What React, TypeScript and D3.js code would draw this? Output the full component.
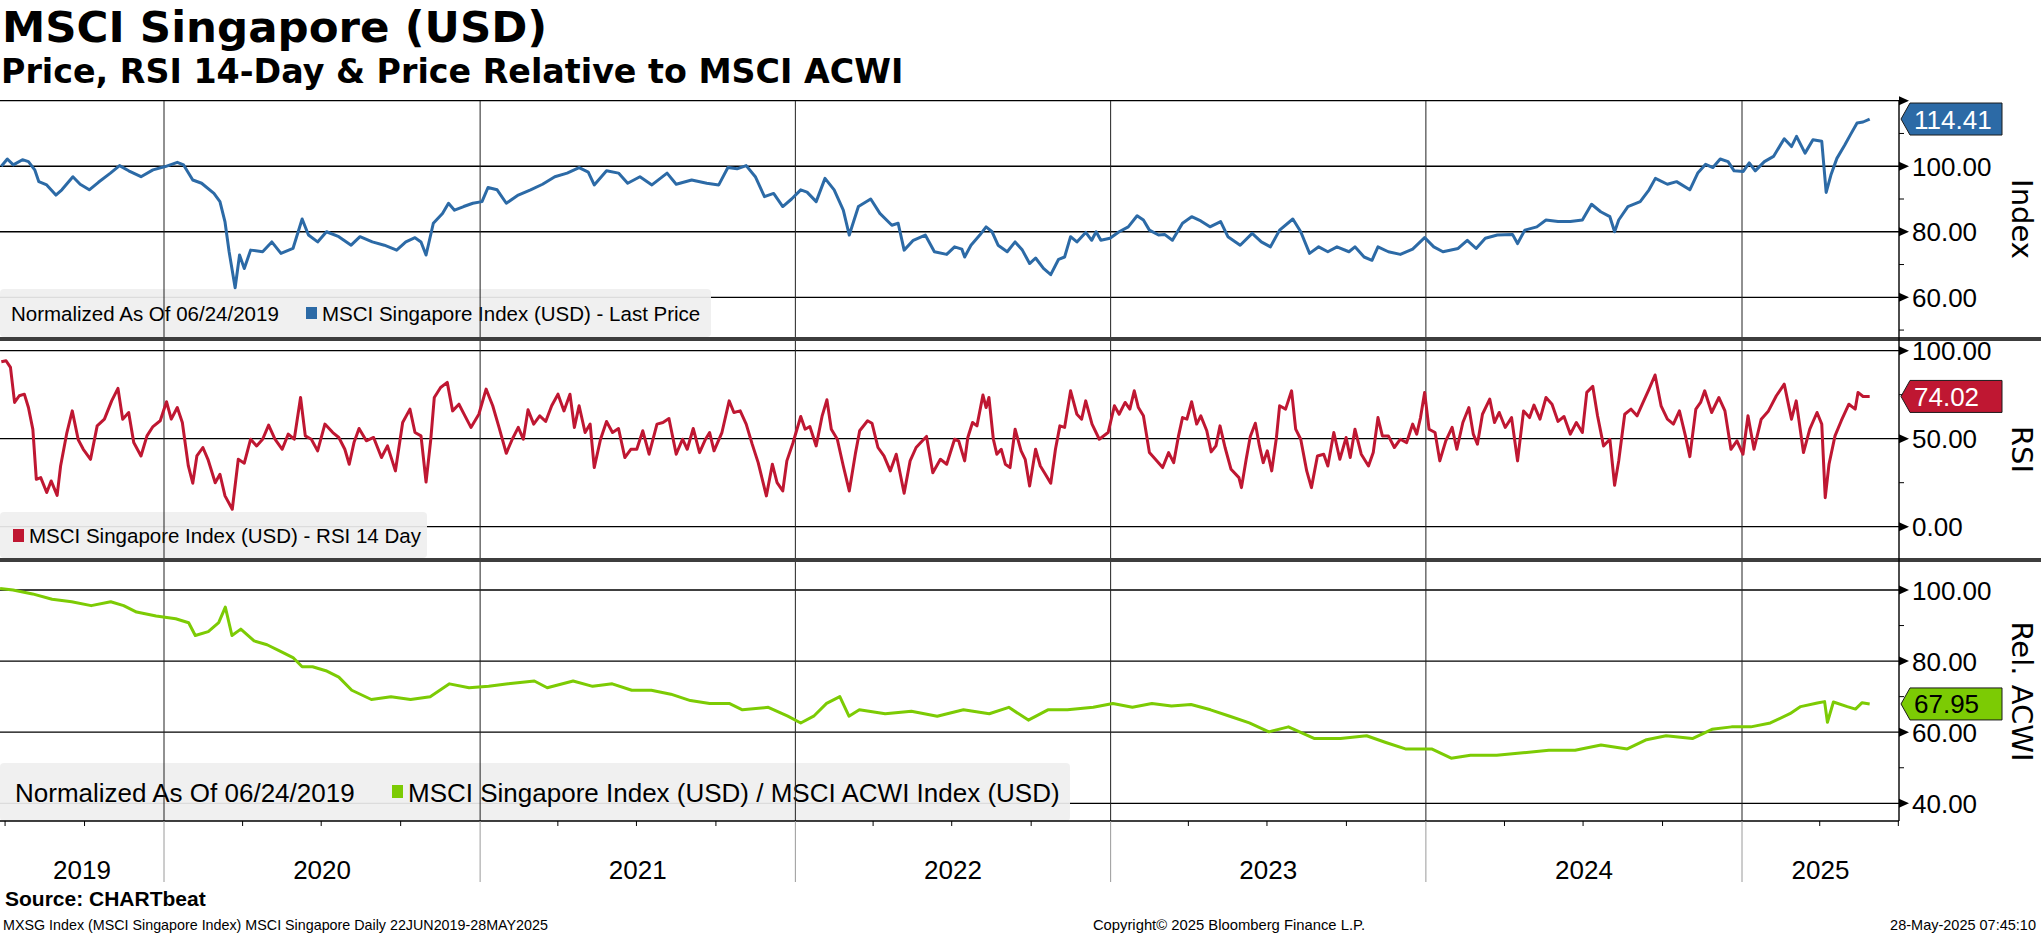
import * as d3 from 'd3';
import * as React from 'react';

// [decimal year, value]
const priceSeries: [number, number][] = [
  [2019.484, 100], [2019.503, 102.2], [2019.522, 100.4], [2019.551, 102], [2019.570, 101.4], [2019.590, 98.9], [2019.603, 95.3],
  [2019.628, 94.3], [2019.657, 91.2], [2019.676, 92.8], [2019.711, 96.8], [2019.734, 94.5], [2019.763, 92.8], [2019.792, 95.1],
  [2019.830, 97.9], [2019.859, 100.2], [2019.888, 98.6], [2019.927, 96.8], [2019.965, 98.9], [2020.004, 99.9], [2020.042, 101.2],
  [2020.062, 100.4], [2020.091, 95.8], [2020.119, 94.8], [2020.158, 91.7], [2020.177, 89.2], [2020.193, 83], [2020.206, 73.9],
  [2020.225, 62.9], [2020.239, 72.9], [2020.254, 68.8], [2020.274, 74.4], [2020.312, 73.9], [2020.341, 76.9], [2020.370, 73.4],
  [2020.408, 74.9], [2020.437, 83.9], [2020.457, 79], [2020.486, 76.9], [2020.514, 80], [2020.553, 78.5], [2020.592, 75.9],
  [2020.620, 78.5], [2020.659, 76.9], [2020.697, 75.9], [2020.736, 74.4], [2020.765, 76.9], [2020.794, 78.2], [2020.813, 76.9],
  [2020.829, 72.9], [2020.852, 82.6], [2020.881, 85.6], [2020.900, 88.7], [2020.919, 86.6], [2020.948, 87.7], [2020.977, 88.7],
  [2021.006, 89.2], [2021.025, 93.5], [2021.054, 92.8], [2021.083, 88.7], [2021.121, 91.2], [2021.160, 92.8], [2021.198, 94.5],
  [2021.237, 96.8], [2021.276, 97.9], [2021.314, 99.6], [2021.343, 98.2], [2021.362, 94.3], [2021.401, 98.6], [2021.439, 97.9],
  [2021.468, 94.8], [2021.507, 96.8], [2021.545, 94.3], [2021.593, 97.9], [2021.622, 94.5], [2021.671, 95.8], [2021.719, 94.8],
  [2021.757, 94.3], [2021.786, 99.6], [2021.815, 99.2], [2021.844, 100.2], [2021.873, 96.8], [2021.902, 90.7], [2021.931, 91.7],
  [2021.960, 87.7], [2021.988, 90], [2022.017, 92.8], [2022.037, 92.1], [2022.066, 89.2], [2022.094, 96.3], [2022.123, 92.8],
  [2022.152, 86.6], [2022.171, 79], [2022.200, 87.7], [2022.239, 90], [2022.268, 85.6], [2022.306, 82], [2022.326, 82.6],
  [2022.345, 74.4], [2022.374, 77.4], [2022.412, 79], [2022.441, 73.9], [2022.480, 73.1], [2022.505, 75.4], [2022.528, 74.7],
  [2022.537, 72.3], [2022.557, 75.9], [2022.585, 79], [2022.605, 81.5], [2022.624, 80], [2022.643, 75.9], [2022.672, 73.9],
  [2022.697, 76.9], [2022.720, 74.4], [2022.743, 70.3], [2022.762, 72], [2022.787, 68.8], [2022.810, 66.9], [2022.835, 71.6],
  [2022.854, 72.3], [2022.873, 78.5], [2022.893, 76.9], [2022.921, 79.8], [2022.940, 77.4], [2022.954, 80], [2022.969, 77.4],
  [2022.998, 78], [2023.027, 80], [2023.056, 81.5], [2023.084, 84.9], [2023.104, 83.6], [2023.123, 80.5], [2023.152, 79],
  [2023.171, 79.2], [2023.196, 77.4], [2023.228, 82.6], [2023.257, 84.6], [2023.286, 83.3], [2023.315, 81.5], [2023.349, 83.1],
  [2023.372, 78.5], [2023.411, 75.9], [2023.449, 79.5], [2023.478, 76.9], [2023.507, 75.4], [2023.536, 80.5], [2023.578, 83.9],
  [2023.603, 80], [2023.631, 73.4], [2023.660, 75.4], [2023.689, 73.9], [2023.718, 75.4], [2023.756, 73.9], [2023.775, 75.4],
  [2023.804, 72.3], [2023.829, 71.3], [2023.848, 75.4], [2023.881, 73.9], [2023.919, 73.1], [2023.958, 74.7], [2023.996, 78.2],
  [2024.025, 75.4], [2024.054, 73.9], [2024.102, 74.9], [2024.131, 77.4], [2024.159, 74.9], [2024.188, 78], [2024.226, 79],
  [2024.274, 79.2], [2024.290, 76.4], [2024.313, 80.5], [2024.351, 81.5], [2024.380, 83.6], [2024.418, 83.1], [2024.457, 83.1],
  [2024.495, 83.6], [2024.524, 88.4], [2024.553, 86.1], [2024.582, 84.6], [2024.597, 80], [2024.610, 83.6], [2024.639, 87.7],
  [2024.678, 89.2], [2024.706, 92.8], [2024.726, 96.3], [2024.764, 94.5], [2024.793, 95.3], [2024.835, 92.8], [2024.860, 97.9],
  [2024.885, 100.6], [2024.908, 99.6], [2024.931, 102.2], [2024.956, 101.4], [2024.975, 98.6], [2025.004, 98.4], [2025.023, 101],
  [2025.042, 98.6], [2025.071, 101.4], [2025.100, 103], [2025.134, 108.4], [2025.157, 106], [2025.173, 109.1], [2025.200, 104],
  [2025.225, 108.1], [2025.253, 107.6], [2025.267, 92], [2025.282, 97.3], [2025.301, 102.4], [2025.326, 106.5], [2025.345, 109.8],
  [2025.365, 113.2], [2025.384, 113.5], [2025.405, 114.41],
];

const rsiSeries: [number, number][] = [
  [2019.484, 93.7], [2019.499, 94.3], [2019.513, 90.5], [2019.526, 70.6], [2019.541, 74.4], [2019.557, 75.3], [2019.570, 67.7],
  [2019.584, 55.3], [2019.595, 26.9], [2019.609, 27.9], [2019.628, 19.4], [2019.642, 26], [2019.661, 17.8], [2019.672, 34.5],
  [2019.692, 53.5], [2019.709, 65.8], [2019.728, 49.4], [2019.744, 44], [2019.767, 38.3], [2019.788, 57.3], [2019.811, 61.1],
  [2019.834, 71.5], [2019.854, 78.6], [2019.869, 61.1], [2019.888, 64.9], [2019.904, 47.8], [2019.927, 40.2], [2019.946, 51.6],
  [2019.965, 56.9], [2019.988, 60.2], [2020.008, 71], [2020.023, 61.1], [2020.042, 67.7], [2020.058, 59.2], [2020.077, 34.5],
  [2020.091, 24.7], [2020.104, 40.2], [2020.123, 45], [2020.139, 38.3], [2020.162, 25], [2020.177, 29.8], [2020.193, 17.5],
  [2020.216, 9.9], [2020.235, 38.3], [2020.254, 36.1], [2020.274, 49.7], [2020.293, 45.9], [2020.312, 49.7], [2020.331, 57.7],
  [2020.351, 49.7], [2020.374, 44], [2020.393, 52.6], [2020.412, 49.7], [2020.432, 73.4], [2020.447, 51.6], [2020.466, 49.7],
  [2020.486, 43.1], [2020.509, 58.3], [2020.534, 53.5], [2020.553, 50.7], [2020.572, 44], [2020.586, 35.5], [2020.601, 47.8],
  [2020.617, 55.8], [2020.640, 48.8], [2020.663, 50.7], [2020.688, 39.3], [2020.707, 45.9], [2020.732, 31.7], [2020.755, 59.2],
  [2020.778, 66.8], [2020.794, 53.5], [2020.813, 51.6], [2020.829, 25.4], [2020.844, 49.7], [2020.855, 73.4], [2020.875, 79.1],
  [2020.896, 82], [2020.913, 65.8], [2020.933, 69.6], [2020.952, 63], [2020.971, 56.4], [2020.996, 63.9], [2021.019, 78.2],
  [2021.040, 68.7], [2021.060, 56.4], [2021.083, 41.7], [2021.102, 49.7], [2021.121, 56.4], [2021.137, 49.7], [2021.152, 66.4],
  [2021.170, 58.3], [2021.189, 63], [2021.208, 59.8], [2021.227, 68.7], [2021.247, 75.3], [2021.266, 65.8], [2021.285, 75.3],
  [2021.299, 56.4], [2021.314, 68.7], [2021.333, 53.5], [2021.349, 58.3], [2021.362, 33.6], [2021.382, 49.7], [2021.401, 59.8],
  [2021.420, 53.5], [2021.439, 55.8], [2021.459, 39.3], [2021.478, 44], [2021.497, 44], [2021.516, 54.5], [2021.536, 41.2],
  [2021.561, 58.3], [2021.580, 59.2], [2021.599, 61.5], [2021.622, 41.2], [2021.642, 49.7], [2021.657, 44], [2021.676, 55.8],
  [2021.696, 42.1], [2021.715, 49.7], [2021.728, 53.5], [2021.742, 43.1], [2021.767, 53.5], [2021.790, 71.5], [2021.805, 64.9],
  [2021.825, 65.8], [2021.844, 58.3], [2021.863, 46.9], [2021.882, 36.4], [2021.908, 17.5], [2021.927, 35.5], [2021.942, 25],
  [2021.960, 20.3], [2021.973, 37.4], [2021.992, 47.4], [2022.017, 62.6], [2022.031, 55.4], [2022.046, 56.9], [2022.066, 45.9],
  [2022.085, 63], [2022.100, 72.1], [2022.114, 55.4], [2022.133, 49.7], [2022.152, 34.5], [2022.171, 20.3], [2022.191, 42.1],
  [2022.204, 54.5], [2022.229, 60.2], [2022.243, 58.8], [2022.262, 45], [2022.281, 40.2], [2022.301, 31.7], [2022.320, 41.2],
  [2022.345, 19], [2022.364, 37.4], [2022.383, 45], [2022.403, 48.8], [2022.416, 51.3], [2022.436, 30.7], [2022.460, 38.3],
  [2022.480, 35.5], [2022.505, 49.7], [2022.518, 48.8], [2022.537, 37.4], [2022.547, 50.7], [2022.562, 59.2], [2022.576, 57.3],
  [2022.595, 74.8], [2022.605, 67.7], [2022.614, 73.4], [2022.628, 49.7], [2022.639, 41.2], [2022.653, 44], [2022.666, 35.5],
  [2022.681, 33.6], [2022.697, 55.4], [2022.716, 43.1], [2022.729, 38.3], [2022.743, 23.1], [2022.762, 44], [2022.777, 34.5],
  [2022.793, 29.8], [2022.810, 24.7], [2022.825, 44], [2022.839, 57.3], [2022.854, 56.4], [2022.873, 77.2], [2022.893, 63.9],
  [2022.908, 61.1], [2022.921, 71.5], [2022.941, 58.3], [2022.964, 49.7], [2022.992, 53.5], [2023.012, 68.7], [2023.027, 63.9],
  [2023.046, 70.6], [2023.061, 66.8], [2023.075, 77.2], [2023.088, 67.7], [2023.104, 63], [2023.123, 42.1], [2023.142, 38.3],
  [2023.165, 33.6], [2023.184, 42.1], [2023.200, 36.4], [2023.215, 51.3], [2023.228, 62], [2023.242, 61.1], [2023.257, 71],
  [2023.273, 58.3], [2023.286, 63], [2023.305, 54.5], [2023.319, 42.5], [2023.334, 45.9], [2023.347, 57.3], [2023.363, 45],
  [2023.382, 32.6], [2023.407, 27.9], [2023.415, 22.2], [2023.430, 38.3], [2023.443, 51.3], [2023.459, 58.8], [2023.472, 45.9],
  [2023.484, 36.4], [2023.497, 43.1], [2023.511, 31.7], [2023.526, 50.7], [2023.536, 68.7], [2023.555, 66.8], [2023.574, 77.2],
  [2023.587, 55.4], [2023.603, 49.7], [2023.622, 31.7], [2023.637, 22.2], [2023.656, 40.2], [2023.676, 41.2], [2023.689, 34.5],
  [2023.708, 53.5], [2023.727, 38.3], [2023.747, 50.7], [2023.760, 39.3], [2023.775, 55.4], [2023.795, 41.2], [2023.818, 34.5],
  [2023.833, 42.1], [2023.848, 62], [2023.862, 51.6], [2023.881, 51.6], [2023.900, 45], [2023.919, 49.7], [2023.939, 47.8],
  [2023.958, 58.3], [2023.971, 52.6], [2023.983, 62], [2023.996, 76.3], [2024.010, 55.4], [2024.029, 53.5], [2024.044, 37.4],
  [2024.063, 48.8], [2024.083, 56.4], [2024.098, 44], [2024.117, 59.2], [2024.136, 67.7], [2024.150, 52.6], [2024.163, 46.9],
  [2024.179, 63.9], [2024.202, 72.5], [2024.217, 59.2], [2024.232, 64.9], [2024.251, 56.4], [2024.271, 62], [2024.290, 37.4],
  [2024.309, 65.8], [2024.328, 62], [2024.342, 69.1], [2024.361, 61.1], [2024.380, 73.4], [2024.399, 69.6], [2024.418, 59.8],
  [2024.437, 62.6], [2024.457, 52.6], [2024.476, 59.2], [2024.495, 53.5], [2024.509, 76.3], [2024.528, 79.7], [2024.543, 63],
  [2024.562, 45.9], [2024.582, 49.7], [2024.597, 23.5], [2024.610, 37.4], [2024.629, 63.9], [2024.649, 66.8], [2024.668, 63],
  [2024.687, 70.6], [2024.706, 78.2], [2024.725, 86.2], [2024.744, 68.7], [2024.764, 61.1], [2024.783, 58.3], [2024.802, 65.8],
  [2024.821, 51.6], [2024.835, 39.8], [2024.854, 66.8], [2024.869, 70.6], [2024.882, 77.2], [2024.904, 64.9], [2024.927, 73.4],
  [2024.946, 65.8], [2024.965, 44], [2024.984, 48.8], [2025.003, 41.2], [2025.019, 63], [2025.038, 44], [2025.061, 61.1],
  [2025.084, 65.8], [2025.109, 74.4], [2025.134, 81], [2025.157, 61.1], [2025.172, 71.5], [2025.195, 42.1], [2025.215, 55.4],
  [2025.238, 64.9], [2025.253, 58.3], [2025.264, 16.5], [2025.276, 35.5], [2025.295, 51.6], [2025.315, 60.2], [2025.339, 69.6],
  [2025.359, 66.8], [2025.368, 76.3], [2025.384, 74], [2025.405, 74.02],
];

const relSeries: [number, number][] = [
  [2019.480, 100.4], [2019.521, 100], [2019.583, 98.9], [2019.645, 97.4], [2019.707, 96.7], [2019.769, 95.6], [2019.831, 96.7],
  [2019.872, 95.6], [2019.913, 93.8], [2019.975, 92.7], [2020.037, 91.9], [2020.078, 90.8], [2020.099, 87.2], [2020.140, 88.3],
  [2020.173, 90.8], [2020.194, 95.2], [2020.215, 87.2], [2020.243, 89], [2020.285, 85.7], [2020.326, 84.6], [2020.367, 82.8],
  [2020.408, 81], [2020.437, 78.4], [2020.470, 78.4], [2020.512, 77.3], [2020.553, 75.5], [2020.594, 71.8], [2020.656, 69.2],
  [2020.718, 70], [2020.780, 69.2], [2020.842, 70], [2020.903, 73.6], [2020.965, 72.5], [2021.027, 72.9], [2021.089, 73.6],
  [2021.172, 74.4], [2021.213, 72.5], [2021.295, 74.4], [2021.357, 72.9], [2021.419, 73.6], [2021.481, 71.8], [2021.543, 71.8],
  [2021.605, 70.7], [2021.667, 68.9], [2021.728, 68.1], [2021.790, 68.1], [2021.832, 66.3], [2021.914, 67], [2021.976, 64.5],
  [2022.017, 62.6], [2022.058, 64.5], [2022.099, 68.1], [2022.141, 70], [2022.170, 64.5], [2022.203, 66.3], [2022.285, 65.2],
  [2022.368, 65.9], [2022.450, 64.5], [2022.533, 66.3], [2022.615, 65.2], [2022.677, 67], [2022.739, 63.4], [2022.801, 66.3],
  [2022.863, 66.3], [2022.945, 67], [2023.007, 68.1], [2023.069, 67], [2023.131, 68.1], [2023.193, 67.4], [2023.255, 67.8],
  [2023.317, 66.3], [2023.378, 64.5], [2023.440, 62.6], [2023.502, 60.1], [2023.564, 61.5], [2023.647, 58.2], [2023.729, 58.2],
  [2023.812, 59], [2023.873, 57.1], [2023.935, 55.3], [2024.018, 55.3], [2024.080, 52.7], [2024.141, 53.5], [2024.224, 53.5],
  [2024.307, 54.2], [2024.389, 54.9], [2024.472, 54.9], [2024.554, 56.4], [2024.637, 55.3], [2024.698, 57.9], [2024.760, 59],
  [2024.843, 58.2], [2024.905, 60.8], [2024.967, 61.5], [2025.028, 61.5], [2025.090, 62.6], [2025.152, 65.2], [2025.186, 67.2],
  [2025.239, 68.2], [2025.262, 68.6], [2025.271, 62.8], [2025.290, 68.5], [2025.334, 67.2], [2025.360, 66.5], [2025.381, 68.3],
  [2025.405, 67.95],
];

const yearLabels = ['2019', '2020', '2021', '2022', '2023', '2024', '2025'];
const priceTicks = [60, 80, 100, 120];
const priceLabels = [60, 80, 100];
const priceMinor = [50, 70, 90, 110];
const rsiTicks = [0, 50, 100];
const rsiMinor = [25, 75];
const relTicks = [40, 60, 80, 100];
const relMinor = [50, 70, 90];

const SANS = 'Liberation Sans, Arial, sans-serif';
const BOLD = 'DejaVu Sans, Verdana, sans-serif';
const W = 2041;
const H = 936;
const AXIS_X = 1899;

const BLUE = '#2c6aa6';
const RED = '#bf1732';
const GREEN = '#7ccb04';

function toDate(t: number) {
  const y = Math.floor(t);
  const a = Date.UTC(y, 0, 1);
  const b = Date.UTC(y + 1, 0, 1);
  return new Date(a + (t - y) * (b - a));
}

export default function App() {
  const x = d3.scaleUtc()
    .domain([new Date(Date.UTC(2020, 0, 1)), new Date(Date.UTC(2025, 0, 1))])
    .range([164, 1742]);

  const panels = [
    {
      id: 'price', top: 101, bottom: 337,
      y: d3.scaleLinear().domain([60, 120]).range([297.3, 100.7]),
      ticks: priceTicks, labels: priceLabels, minor: priceMinor,
      data: priceSeries, color: BLUE, title: 'Index', flagText: '#fff',
    },
    {
      id: 'rsi', top: 341, bottom: 558,
      y: d3.scaleLinear().domain([0, 100]).range([526.7, 350.7]),
      ticks: rsiTicks, labels: rsiTicks, minor: rsiMinor,
      data: rsiSeries, color: RED, title: 'RSI', flagText: '#fff',
    },
    {
      id: 'rel', top: 562, bottom: 821,
      y: d3.scaleLinear().domain([40, 100]).range([803.3, 590]),
      ticks: relTicks, labels: relTicks, minor: relMinor,
      data: relSeries, color: GREEN, title: 'Rel. ACWI', flagText: '#000',
    },
  ];

  const yearStarts = d3.utcYear.range(new Date(Date.UTC(2020, 0, 1)), new Date(Date.UTC(2026, 0, 1)));
  const quarterTicks = d3.utcMonth.every(3)!
    .range(new Date(Date.UTC(2019, 6, 1)), new Date(Date.UTC(2025, 7, 1)))
    .filter(d => d.getUTCMonth() !== 0);

  const yearCenters = yearLabels.map(label => {
    const yr = +label;
    const a = Math.max(0, x(new Date(Date.UTC(yr, 0, 1))));
    const b = Math.min(AXIS_X, x(new Date(Date.UTC(yr + 1, 0, 1))));
    return { label, cx: (a + b) / 2 };
  });

  return (
    <div style={{ position: 'absolute', left: 0, top: 0, width: W, height: H, background: '#fff' }}>
      <svg width={W} height={H} viewBox={`0 0 ${W} ${H}`} style={{ display: 'block' }}>
        <rect width={W} height={H} fill="#fff" />
        <defs>
          {panels.map(p => (
            <clipPath id={`clip-${p.id}`} key={p.id}>
              <rect x={0} y={p.top} width={AXIS_X} height={p.bottom - p.top} />
            </clipPath>
          ))}
        </defs>

        <text x={2} y={42} fontFamily={BOLD} fontWeight="bold" fontSize={43.5}>MSCI Singapore (USD)</text>
        <text x={1} y={83} fontFamily={BOLD} fontWeight="bold" fontSize={33.3}>Price, RSI 14-Day &amp; Price Relative to MSCI ACWI</text>

        {panels.map(p => {
          const line = d3.line<[number, number]>()
            .x(d => x(toDate(d[0])))
            .y(d => p.y(d[1]));
          return (
            <g key={p.id}>
              {p.ticks.map(t => (
                <line key={t} x1={0} x2={AXIS_X} y1={p.y(t)} y2={p.y(t)} stroke="#000" strokeWidth={1.3} />
              ))}
              {p.id === 'price' && (
                <g>
                  <rect x={0} y={289} width={711} height={48} rx={4} fill="#efefef" opacity={0.92} />
                  <text x={11} y={321} fontFamily={SANS} fontSize={20.5}>Normalized As Of 06/24/2019</text>
                  <rect x={306} y={307} width={11} height={12} fill={BLUE} />
                  <text x={322} y={321} fontFamily={SANS} fontSize={20.5}>MSCI Singapore Index (USD) - Last Price</text>
                </g>
              )}
              {p.id === 'rsi' && (
                <g>
                  <rect x={0} y={512} width={427} height={46} rx={4} fill="#efefef" opacity={0.92} />
                  <rect x={13} y={529} width={11} height={13} fill={RED} />
                  <text x={29} y={543} fontFamily={SANS} fontSize={20.5}>MSCI Singapore Index (USD) - RSI 14 Day</text>
                </g>
              )}
              {p.id === 'rel' && (
                <g>
                  <rect x={0} y={763} width={1070} height={58} rx={4} fill="#efefef" opacity={0.92} />
                  <text x={15} y={802} fontFamily={SANS} fontSize={26}>Normalized As Of 06/24/2019</text>
                  <rect x={392} y={785} width={11} height={13} fill={GREEN} />
                  <text x={408} y={802} fontFamily={SANS} fontSize={26}>MSCI Singapore Index (USD) / MSCI ACWI Index (USD)</text>
                </g>
              )}
              {yearStarts.map(d => (
                <line key={+d} x1={x(d)} x2={x(d)} y1={p.top} y2={p.bottom} stroke="#222" strokeWidth={1} />
              ))}
              <path d={line(p.data) ?? ''} fill="none" stroke={p.color} strokeWidth={3}
                strokeLinejoin="round" clipPath={`url(#clip-${p.id})`} />
            </g>
          );
        })}

        {/* panel separators */}
        <rect x={0} y={337} width={W} height={4} fill="#3d3d3d" />
        <rect x={0} y={558} width={W} height={4} fill="#3d3d3d" />

        {/* bottom time axis */}
        <line x1={0} x2={AXIS_X} y1={821} y2={821} stroke="#000" strokeWidth={1.3} />
        {quarterTicks.map(d => (
          <line key={+d} x1={x(d)} x2={x(d)} y1={821} y2={826} stroke="#000" strokeWidth={1} />
        ))}
        {yearStarts.map(d => (
          <line key={+d} x1={x(d)} x2={x(d)} y1={821} y2={882} stroke="#9a9a9a" strokeWidth={1} />
        ))}
        {yearCenters.map(yc => (
          <text key={yc.label} x={yc.cx} y={879} textAnchor="middle" fontFamily={SANS} fontSize={26}>{yc.label}</text>
        ))}

        {/* right value axis */}
        <line x1={AXIS_X} x2={AXIS_X} y1={100} y2={821} stroke="#000" strokeWidth={1.4} />
        {panels.map(p => {
          const last = p.data[p.data.length - 1][1];
          const cy = p.y(last);
          return (
            <g key={`ax-${p.id}`}>
              {p.ticks.map(t => (
                <path key={t} d={`M${AXIS_X},${p.y(t) - 4.5}L${AXIS_X + 10},${p.y(t)}L${AXIS_X},${p.y(t) + 4.5}Z`} fill="#000" />
              ))}
              {p.minor.map(t => (
                <line key={t} x1={AXIS_X} x2={AXIS_X + 5} y1={p.y(t)} y2={p.y(t)} stroke="#000" strokeWidth={1} />
              ))}
              {p.labels.map(t => (
                <text key={t} x={1912} y={p.y(t) + 9.5} fontFamily={SANS} fontSize={26}>{t.toFixed(2)}</text>
              ))}
              <path d={`M${AXIS_X + 2},${cy}L${AXIS_X + 11},${cy - 16}L2002,${cy - 16}L2002,${cy + 16}L${AXIS_X + 11},${cy + 16}Z`}
                fill={p.color} stroke="#1b1b1b" strokeWidth={1} />
              <text x={1914} y={cy + 9.5} fontFamily={SANS} fontSize={26} fill={p.flagText}>{last.toFixed(2)}</text>
              <text transform={`translate(2012,${(p.top + p.bottom) / 2}) rotate(90)`} textAnchor="middle"
                fontFamily={BOLD} fontSize={29}>{p.title}</text>
            </g>
          );
        })}

        <text x={5} y={906} fontFamily={SANS} fontWeight="bold" fontSize={21}>Source: CHARTbeat</text>
        <text x={3} y={930} fontFamily={SANS} fontSize={14.3}>MXSG Index (MSCI Singapore Index) MSCI Singapore  Daily 22JUN2019-28MAY2025</text>
        <text x={1229} y={930} textAnchor="middle" fontFamily={SANS} fontSize={14.8}>Copyright© 2025 Bloomberg Finance L.P.</text>
        <text x={2036} y={930} textAnchor="end" fontFamily={SANS} fontSize={14.5}>28-May-2025 07:45:10</text>
      </svg>
    </div>
  );
}
